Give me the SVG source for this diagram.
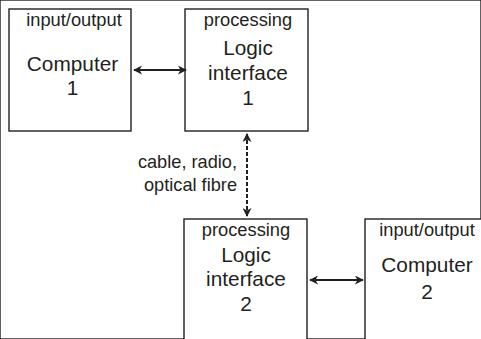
<svg xmlns="http://www.w3.org/2000/svg" width="481" height="339" viewBox="0 0 481 339">
<style>
rect{fill:#fff;stroke:#231f20;stroke-width:1.4}
text{font-family:"Liberation Sans",Arial,sans-serif;fill:#231f20;text-anchor:middle}
.s{font-size:18.3px}
.b{font-size:20.8px}
.l{font-size:18.2px;text-anchor:end}
.c{stroke:#231f20;stroke-width:2;fill:none}
</style>
<defs>
<marker id="ah" viewBox="0 0 10 10" refX="9" refY="5" markerWidth="4.5" markerHeight="4.5" orient="auto-start-reverse">
<path d="M0,0 L10,5 L0,10 L3,5 z" fill="#231f20"/>
</marker>
</defs>
<rect width="481" height="339" fill="#fff" stroke="none"/>
<g id="computer1">
<rect x="9" y="9" width="122" height="122"/>
<text class="s" x="74" y="26">input/output</text>
<text class="b" x="72.5" y="71">Computer</text>
<text class="b" x="72.5" y="95">1</text>
</g>
<g id="logic1">
<rect x="185" y="9" width="123" height="122"/>
<text class="s" x="248" y="26">processing</text>
<text class="b" x="248" y="55">Logic</text>
<text class="b" x="248" y="80">interface</text>
<text class="b" x="248" y="105">1</text>
</g>
<g id="logic2">
<rect x="184" y="219" width="123" height="130"/>
<text class="s" x="246" y="236">processing</text>
<text class="b" x="246" y="262">Logic</text>
<text class="b" x="246" y="286">interface</text>
<text class="b" x="246" y="311">2</text>
</g>
<g id="computer2">
<rect x="365" y="219" width="130" height="130"/>
<text class="s" x="427" y="236">input/output</text>
<text class="b" x="427" y="272">Computer</text>
<text class="b" x="427" y="299">2</text>
</g>
<g id="connectors">
<line class="c" x1="134" y1="70" x2="186" y2="70" marker-start="url(#ah)" marker-end="url(#ah)"/>
<line class="c" x1="310" y1="280" x2="363" y2="280" marker-start="url(#ah)" marker-end="url(#ah)"/>
<line class="c" x1="247" y1="134" x2="247" y2="216" stroke-dasharray="4 2" marker-start="url(#ah)" marker-end="url(#ah)"/>
<text class="l" x="237" y="168">cable, radio,</text>
<text class="l" x="237" y="191">optical fibre</text>
</g>
</svg>
